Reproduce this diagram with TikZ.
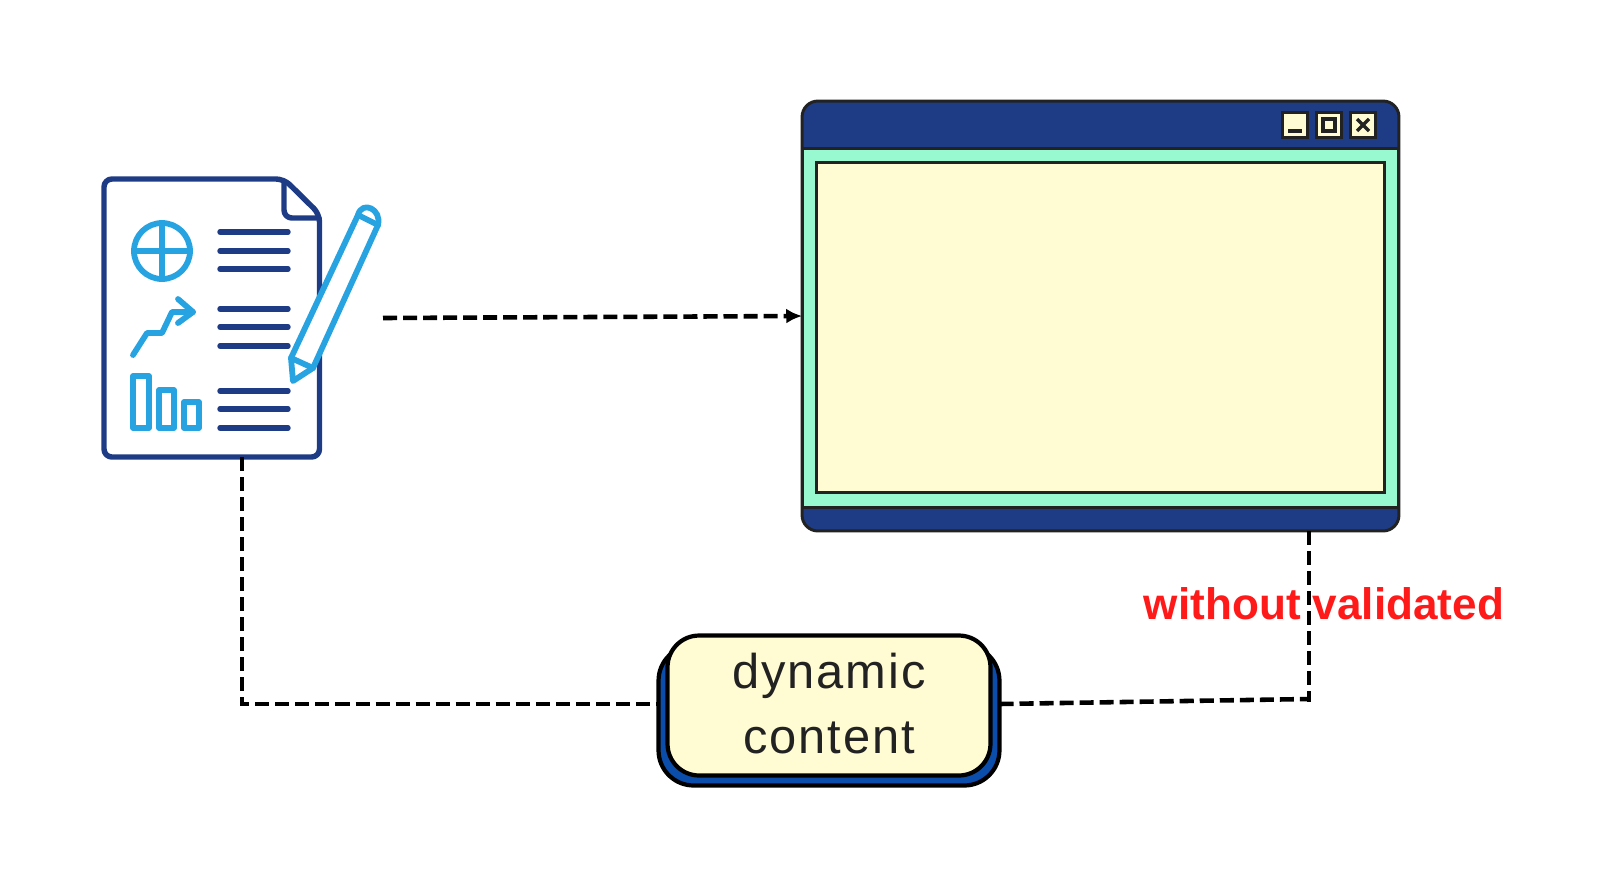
\documentclass[tikz,border=0pt]{standalone}
\usepackage{fontspec}
\usepackage{tikz}
\usetikzlibrary{positioning, arrows.meta}
\setmainfont{Liberation Sans}
\newfontfamily\cardfont[LetterSpace=4]{Liberation Sans}
\definecolor{navy}{HTML}{1E3C86}
\definecolor{sky}{HTML}{27A3E2}
\definecolor{mint}{HTML}{98F8D0}
\definecolor{cream}{HTML}{FFFBD2}
\definecolor{royal}{HTML}{0B4DAA}
\definecolor{ink}{HTML}{222222}
\definecolor{alert}{HTML}{FF1A1A}
\tikzset{
	docline/.style={draw=navy, line width=3.1pt, line cap=round, line join=round},
	iconline/.style={draw=sky, line width=3.3pt, line cap=round, line join=round},
	winbox/.style={draw=ink, line width=1.7pt, inner sep=0pt, outer sep=0pt},
	winbutton/.style={winbox, fill=cream, minimum width=0.5cm, minimum height=0.5cm},
	wayline/.style={draw=black, line width=2.6pt, dash pattern=on 8pt off 3.4pt},
}
\begin{document}
\begin{tikzpicture}[x=0.02cm, y=-0.02cm]
	\useasboundingbox (0,0) rectangle (1620,887);

	\node[minimum width=4.3cm, minimum height=5.56cm, inner sep=0pt, outer sep=0pt] (doc) at (211.5,318) {};
	\draw[docline, rounded corners=4.5pt] (284,179) -- (104,179) -- (104,457) -- (319.5,457) -- (319.5,214) -- cycle;
	\draw[docline, rounded corners=4.5pt] (284,181) -- (284,218) -- (319,218);

	\draw[docline] (220,232) -- (288,232);
	\draw[docline] (220,251) -- (288,251);
	\draw[docline] (220,269) -- (288,269);
	\draw[docline] (220,309) -- (288,309);
	\draw[docline] (220,327) -- (288,327);
	\draw[docline] (220,346) -- (288,346);
	\draw[docline] (220,391) -- (288,391);
	\draw[docline] (220,409) -- (288,409);
	\draw[docline] (220,428) -- (288,428);

	\draw[iconline] (162,251) circle (28);
	\draw[iconline] (134,251) -- (190,251);
	\draw[iconline] (162,223) -- (162,279);
	\draw[iconline] (133,355) -- (147,333) -- (162,333) -- (172,312) -- (193,312);
	\draw[iconline] (178,299) -- (193,312) -- (178,323);
	\draw[iconline] (133,376) rectangle (149,428);
	\draw[iconline] (159,390) rectangle (174,428);
	\draw[iconline] (184,402) rectangle (199,428);

	\draw[iconline, fill=white] (358,215) .. controls (362,200) and (382,209) .. (378,225) -- (313,368) -- (293,381) -- (291,358) -- cycle;
	\draw[iconline] (358,215) -- (378,225);
	\draw[iconline] (291,358) -- (313,368);

	\node[winbox, fill=navy, rounded corners=9pt, minimum width=11.94cm, minimum height=8.6cm] (window) at (1100.5,316) {};
	\node[winbox, fill=mint, minimum width=11.94cm, minimum height=7.2cm] (frame) at (1100.5,328) {};
	\node[winbox, fill=cream, minimum width=11.36cm, minimum height=6.62cm] (pane) at (1100.5,327.5) {};

	\node[winbutton] (minbutton) at (1295,125) {};
	\node[winbutton] (maxbutton) at (1329,125) {};
	\node[winbutton] (closebutton) at (1363,125) {};
	\draw[ink, line width=1.9pt] (1288,131) -- (1302,131);
	\draw[ink, line width=1.9pt] (1323,119) rectangle (1335,131);
	\draw[ink, line width=1.9pt] (1357,119) -- (1369,131);
	\draw[ink, line width=1.9pt] (1369,119) -- (1357,131);

	\node[draw=black, fill=royal, line width=2.4pt, rounded corners=20pt, inner sep=0pt, outer sep=0pt, minimum width=6.82cm, minimum height=2.8cm] (back) at (829,715.5) {};
	\node[draw=black, fill=cream, line width=2.4pt, rounded corners=18pt, inner sep=0pt, outer sep=0pt, minimum width=6.46cm, minimum height=2.8cm, align=center, text=ink, font=\cardfont\fontsize{27.8}{37}\selectfont] (card) at (829,705.5) {dynamic\\content\rule[-2.4pt]{0pt}{0pt}};

	\node[anchor=base, text=alert, font=\bfseries\fontsize{25.1}{30}\selectfont] (note) at (1324,619) {without validated};

	\coordinate (penout) at (383,318);
	\coordinate (turnleft) at (242,704);
	\coordinate (turnright) at (1309,699);
	\coordinate (rightend) at (1309,702);

	\draw[wayline, -{Latex[length=9pt, width=8.5pt]}] (penout) -- (window.west);
	\draw[wayline] (doc.south -| turnleft) -- (turnleft) -- (back.west |- turnleft);
	\draw[wayline] (back.east |- turnleft) -- (turnright);
	\draw[wayline] (window.south -| turnright) -- (rightend);
\end{tikzpicture}
\end{document}
